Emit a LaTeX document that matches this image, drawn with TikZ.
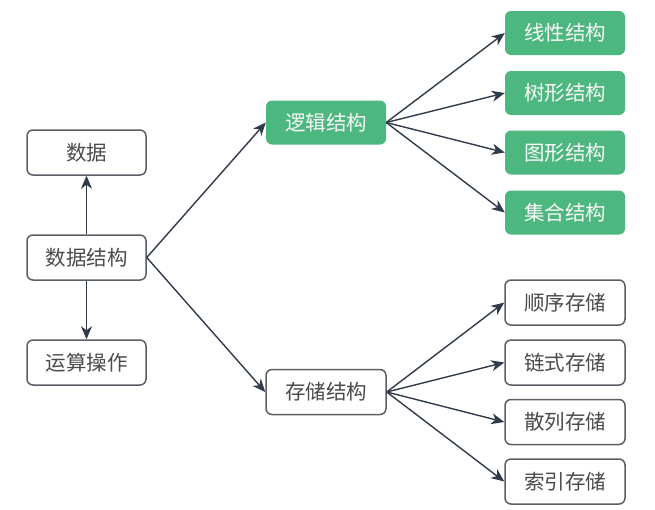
\documentclass[tikz,border=0pt]{standalone}
\usepackage{fontspec}
\setmainfont{Noto Sans CJK SC}
\usetikzlibrary{arrows.meta}
\definecolor{gboxc}{HTML}{4CB77F}
\definecolor{edgec}{HTML}{2F3B48}
\definecolor{bordc}{HTML}{5A5F66}
\definecolor{txtc}{HTML}{4A4A4A}
\tikzset{
  wbox/.style={draw=bordc, line width=1.5pt, rounded corners=6pt, fill=white,
    minimum width=119pt, minimum height=45pt, inner sep=0pt, text=txtc,
    font=\fontsize{20.5}{24}\selectfont},
  gbox/.style={fill=gboxc, rounded corners=6pt, draw=none,
    minimum width=120pt, minimum height=44pt, inner sep=0pt, text=white!95!gray,
    font=\fontsize{20.5}{24}\selectfont},
  arr/.style={draw=edgec, line width=1.4pt, -{Stealth[length=13pt,width=11pt,inset=4pt]}}
}
\begin{document}
\begin{tikzpicture}[x=1pt,y=-1pt]
\useasboundingbox (0,0) rectangle (655,509);
\node[wbox] (sj) at (86.5,152.5) {数据};
\node[wbox] (sjjg) at (86.5,257.5) {数据结构};
\node[wbox] (yscz) at (86.5,362.5) {运算操作};
\node[gbox] (ljjg) at (326,122.5) {逻辑结构};
\node[wbox,minimum width=120pt] (ccjg) at (326,392) {存储结构};
\node[gbox] (xx) at (565,33) {线性结构};
\node[gbox] (sx) at (565,93) {树形结构};
\node[gbox] (tx) at (565,152.5) {图形结构};
\node[gbox] (jh) at (565,212.5) {集合结构};
\node[wbox,minimum width=120pt] (sxcc) at (565,302.5) {顺序存储};
\node[wbox,minimum width=120pt] (lscc) at (565,362.5) {链式存储};
\node[wbox,minimum width=120pt] (slcc) at (565,422) {散列存储};
\node[wbox,minimum width=120pt] (sycc) at (565,481.5) {索引存储};
\draw[arr] (sjjg) -- (sj);
\draw[arr] (sjjg) -- (yscz);
\draw[arr] (sjjg.east) -- (ljjg.west);
\draw[arr] (sjjg.east) -- (ccjg.west);
\foreach \t in {xx,sx,tx,jh} \draw[arr] (ljjg.east) -- (\t.west);
\foreach \t in {sxcc,lscc,slcc,sycc} \draw[arr] (ccjg.east) -- (\t.west);
\end{tikzpicture}
\end{document}
